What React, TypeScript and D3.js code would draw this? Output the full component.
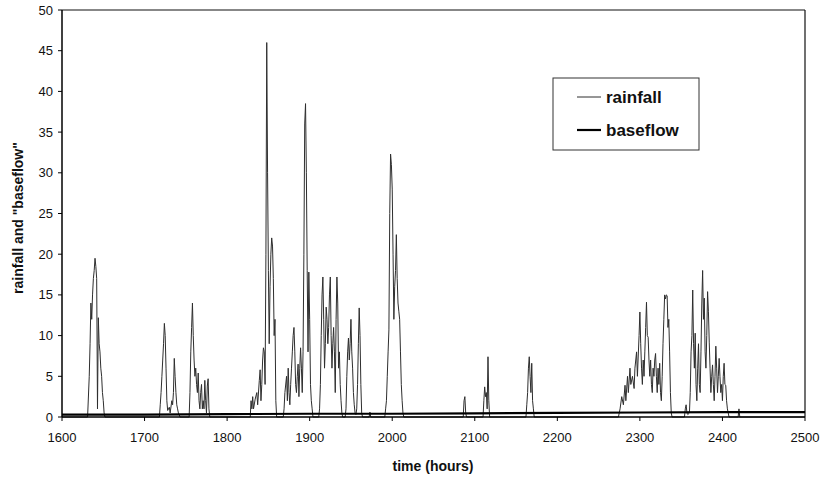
import React from "react";
import * as d3 from "d3";

type Pt = [number, number];

const xTicks = [1600, 1700, 1800, 1900, 2000, 2100, 2200, 2300, 2400, 2500];
const yTicks = [0, 5, 10, 15, 20, 25, 30, 35, 40, 45, 50];

const storm1640: Pt[] = [[1631,0],[1633,5],[1634,9],[1635,14],[1636,12],[1637,15],[1638,17],[1639,18],[1640,19.5],[1641,18.5],[1642,17],[1643,1],[1644,12.2],[1645,9],[1646,8],[1647,6],[1648,5],[1649,3],[1650,2],[1651,0.5],[1652,0]];
const storm1725: Pt[] = [[1718,0],[1719,1.5],[1720,3],[1721,5],[1722,7],[1723,9],[1724,11.5],[1725,10],[1726,6],[1727,2],[1728,0.8],[1730,1.2],[1731,0.5],[1733,2],[1734,1.5],[1735,3],[1736,7.2],[1737,5],[1738,3],[1739,1.5],[1740,1],[1741,0.5],[1743,0]];
const storm1758: Pt[] = [[1754,0],[1755,3],[1756,8],[1757,11],[1758,14],[1759,10],[1760,7],[1761,5],[1762,6],[1763,4],[1764,3],[1765,5.4],[1766,2],[1767,1],[1768,3],[1769,4],[1770,1],[1771,2],[1772,1],[1773,4.5],[1774,2],[1775,0.5],[1776,3.8],[1777,4.7],[1778,1],[1779,0]];
const storm1848: Pt[] = [[1828,0],[1829,2],[1830,1],[1831,2.5],[1832,1],[1834,2.2],[1836,3],[1837,1.5],[1839,4.5],[1840,5.8],[1841,2],[1842,4],[1843,7],[1844,8.5],[1845,8],[1846,4],[1847,20],[1848,46],[1849,30],[1850,18],[1851,9],[1852,16],[1853,20],[1854,22],[1855,21],[1856,17],[1857,10],[1858,12],[1859,2],[1860,0]];
const storm1895: Pt[] = [[1868,0],[1869,1],[1870,3],[1872,5],[1873,2],[1874,6],[1875,3],[1876,1.5],[1877,4],[1878,6],[1879,8],[1880,10],[1881,11],[1882,8],[1883,4],[1884,3],[1885,5],[1886,6.5],[1887,2.5],[1888,6],[1889,8.5],[1890,6],[1891,3],[1892,8],[1893,20],[1894,36],[1895,38.5],[1896,30],[1897,18],[1898,8],[1899,17.8],[1900,12],[1901,4],[1902,2],[1903,1],[1904,0]];
const storm1925: Pt[] = [[1911,0],[1912,1],[1913,4],[1914,10],[1915,15],[1916,17.2],[1917,12],[1918,6],[1919,9],[1920,13.5],[1921,12],[1922,9],[1923,11],[1924,15],[1925,17.2],[1926,10],[1927,6],[1928,9],[1929,11],[1930,8],[1931,3],[1932,12],[1933,17.2],[1934,14],[1935,6],[1936,8],[1937,4],[1938,2],[1939,0.5],[1940,0]];
const storm1955: Pt[] = [[1943,0],[1944,1],[1945,5],[1946,8],[1947,9.7],[1948,7],[1949,9],[1950,12],[1951,8],[1952,6],[1953,3],[1954,1.5],[1955,0.5],[1956,0.3],[1957,1],[1958,4],[1959,9],[1960,13.4],[1961,10],[1962,4],[1963,0.5],[1964,0],[1972,0],[1973,0.6],[1974,0]];
const storm2000: Pt[] = [[1991,0],[1992,1],[1993,2],[1994,5],[1995,8],[1996,10.7],[1997,25],[1998,32.3],[1999,31],[2000,28],[2001,20],[2002,12],[2003,16],[2004,18],[2005,22.4],[2006,17],[2007,14],[2008,13],[2009,12],[2010,8],[2011,4],[2012,2],[2013,0.5],[2014,0]];
const storm2115: Pt[] = [[2086,0],[2087,2],[2088,2.5],[2089,0.5],[2090,0],[2110,0],[2111,2],[2112,3.7],[2113,2.5],[2114,3],[2115,1],[2116,7.4],[2117,2],[2118,0]];
const storm2166: Pt[] = [[2162,0],[2163,1.5],[2164,3],[2165,6],[2166,7.4],[2167,5],[2168,3],[2169,6.6],[2170,2],[2171,1],[2172,0]];
const storm2310: Pt[] = [[2274,0],[2276,1],[2278,2.5],[2280,1.5],[2282,3.9],[2283,2],[2285,5],[2286,3],[2288,6],[2289,4],[2291,5],[2293,3.5],[2294,6],[2296,8],[2297,5],[2299,10],[2300,12.9],[2301,9],[2302,6],[2303,4],[2304,7],[2305,5],[2306,8],[2307,11],[2308,14.1],[2309,10],[2310,9.8],[2311,7],[2312,5],[2313,7],[2314,4],[2315,3],[2316,6],[2317,5],[2318,7],[2319,7.8],[2320,5],[2321,3],[2322,6],[2323,4],[2324,6.6],[2325,3],[2326,2],[2327,5],[2328,9],[2329,12],[2330,15],[2331,14.5],[2332,15],[2333,14.9],[2334,11],[2335,12],[2336,8],[2337,3],[2338,0.5],[2339,0]];
const storm2380: Pt[] = [[2354,0],[2355,1],[2356,1.5],[2357,0.5],[2358,0.3],[2360,0.5],[2361,3],[2362,8],[2363,10],[2364,15.6],[2365,9],[2366,6],[2367,10.3],[2368,4],[2369,2],[2370,6],[2371,9],[2372,4],[2373,3],[2374,8],[2375,14],[2376,18],[2377,12],[2378,14.6],[2379,8],[2380,6],[2381,10],[2382,15.4],[2383,13],[2384,9.2],[2385,6],[2386,3],[2387,5],[2388,6.4],[2389,4],[2390,2],[2391,5],[2392,8.7],[2393,6],[2394,3],[2395,5],[2396,7.2],[2397,5],[2398,3],[2399,4],[2400,2],[2401,5],[2402,6.6],[2403,4],[2404,3.9],[2405,2],[2406,1],[2407,0.5],[2408,0],[2419,0],[2420,1],[2421,0]];

const baseflow: Pt[] = [[1600,0.3],[1700,0.3],[1800,0.35],[1900,0.4],[2000,0.4],[2100,0.45],[2200,0.5],[2300,0.55],[2400,0.6],[2500,0.6]];

const rainfall: Pt[] = [
  [1600, 0],
  ...storm1640, ...storm1725, ...storm1758, ...storm1848, ...storm1895,
  ...storm1925, ...storm1955, ...storm2000, ...storm2115, ...storm2166,
  ...storm2310, ...storm2380,
  [2500, 0],
];

export default function App() {
  const W = 824, H = 483;
  const left = 62, right = 805, top = 10, bottom = 417;
  const x = d3.scaleLinear().domain([1600, 2500]).range([left, right]);
  const y = d3.scaleLinear().domain([0, 50]).range([bottom, top]);
  const line = d3.line<Pt>().x(d => x(d[0])).y(d => y(d[1]));
  const font = "Liberation Sans, Arial, sans-serif";

  return (
    <svg width={W} height={H} style={{ position: "absolute", left: 0, top: 0, background: "#fff" }} fontFamily={font}>
      <rect x={0} y={0} width={W} height={H} fill="#fff" />
      {/* frame */}
      <line x1={left} x2={right} y1={top} y2={top} stroke="#111" strokeWidth={1.2} />
      <line x1={right} x2={right} y1={top} y2={bottom} stroke="#111" strokeWidth={1.2} />
      {/* series */}
      <path d={line(rainfall) || ""} fill="none" stroke="#2e2e2e" strokeWidth={1} />
      <path d={line(baseflow) || ""} fill="none" stroke="#000" strokeWidth={2.2} />
      {/* axes */}
      <line x1={left} x2={left} y1={top} y2={bottom} stroke="#000" strokeWidth={1.5} />
      <line x1={left} x2={right} y1={bottom} y2={bottom} stroke="#000" strokeWidth={1.5} />
      {yTicks.map(t => (
        <g key={"y" + t}>
          <line x1={left - 4} x2={left} y1={y(t)} y2={y(t)} stroke="#000" strokeWidth={1} />
          <text x={left - 9} y={y(t)} dy="0.35em" textAnchor="end" fontSize={13} fill="#111">{t}</text>
        </g>
      ))}
      {xTicks.map(t => (
        <g key={"x" + t}>
          <line x1={x(t)} x2={x(t)} y1={bottom} y2={bottom + 4} stroke="#000" strokeWidth={1} />
          <text x={x(t)} y={bottom + 25} textAnchor="middle" fontSize={13} fill="#111">{t}</text>
        </g>
      ))}
      <text x={433} y={471} textAnchor="middle" fontSize={14} fontWeight="bold" fill="#111">time (hours)</text>
      <text transform={`translate(23,${218}) rotate(-90)`} textAnchor="middle" fontSize={14} fontWeight="bold" fill="#111">rainfall and "baseflow"</text>
      {/* legend */}
      <rect x={553} y={78} width={146} height={72} fill="#fff" stroke="#333" strokeWidth={1} />
      <line x1={577} x2={601} y1={97} y2={97} stroke="#2e2e2e" strokeWidth={1} />
      <text x={606} y={97} dy="0.35em" fontSize={17} fontWeight="bold" fill="#111">rainfall</text>
      <line x1={577} x2={601} y1={130} y2={130} stroke="#000" strokeWidth={2.2} />
      <text x={606} y={130} dy="0.35em" fontSize={17} fontWeight="bold" fill="#111">baseflow</text>
    </svg>
  );
}
